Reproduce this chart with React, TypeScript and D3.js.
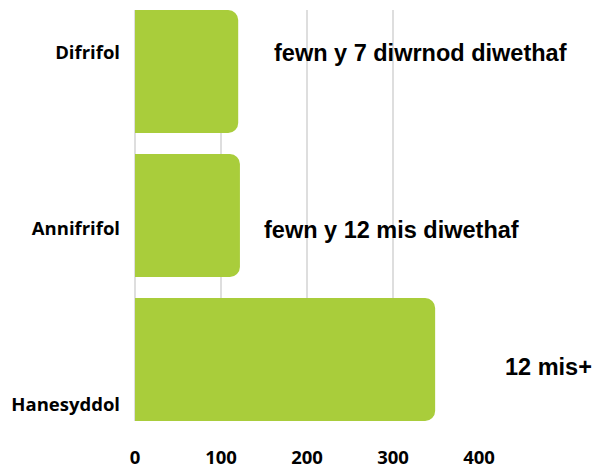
import React from "react";
import * as d3 from "d3";

const categories = ["Difrifol", "Annifrifol", "Hanesyddol"];
const values = [120, 122, 349];
const annotations = ["fewn y 7 diwrnod diwethaf", "fewn y 12 mis diwethaf", "12 mis+"];
const xTicks = [0, 100, 200, 300, 400];

export default function App() {
  const width = 593;
  const height = 469;
  const margin = { top: 10, right: 114, bottom: 48, left: 135 };

  const x = d3
    .scaleLinear()
    .domain([0, 400])
    .range([margin.left, width - margin.right]);

  const y = d3
    .scaleBand()
    .domain(categories)
    .range([margin.top, height - margin.bottom])
    .paddingInner(0.146)
    .paddingOuter(0);

  // the category labels sit on their own evenly spaced rows, not on the bar centres
  const labelY = d3.scalePoint().domain(categories).range([53, 405]);

  // annotation anchors (left edge, vertical centre)
  const annoX = [274, 264, 505];
  const annoY = [53, 230, 367];

  const r = 10;
  const barPath = (v: number, c: string) => {
    const x0 = x(0);
    const x1 = x(v);
    const y0 = y(c)!;
    const y1 = y0 + y.bandwidth();
    const p = d3.path();
    p.moveTo(x0, y0);
    p.lineTo(x1 - r, y0);
    p.arcTo(x1, y0, x1, y0 + r, r);
    p.lineTo(x1, y1 - r);
    p.arcTo(x1, y1, x1 - r, y1, r);
    p.lineTo(x0, y1);
    p.closePath();
    return p.toString();
  };

  const gridTop = margin.top;
  const gridBottom = height - margin.bottom;

  return (
    <svg
      width={width}
      height={height}
      style={{ position: "absolute", left: 0, top: 0, background: "#fff" }}
    >
      <g>
        {xTicks
          .filter((t) => t < 400)
          .map((t) => (
            <line
              key={t}
              x1={x(t)}
              x2={x(t)}
              y1={gridTop}
              y2={gridBottom}
              stroke="#bdbdbd"
              strokeWidth={1}
            />
          ))}
      </g>
      <g>
        {categories.map((c, i) => (
          <path key={c} d={barPath(values[i], c)} fill="#a9cd3b" />
        ))}
      </g>
      <g
        style={{ fontFamily: "'Open Sans', sans-serif", fontWeight: 700, fontSize: "18.5px" }}
        fill="#000"
      >
        {categories.map((c) => (
          <text key={c} x={120} y={labelY(c)} textAnchor="end" dy="0.35em">
            {c}
          </text>
        ))}
        {xTicks.map((t) => (
          <text key={t} x={x(t)} y={458} textAnchor="middle" dy="0.35em">
            {t}
          </text>
        ))}
      </g>
      <g
        style={{ fontFamily: "'Liberation Sans', Arial, sans-serif", fontWeight: 700, fontSize: "23.5px" }}
        fill="#000"
      >
        {annotations.map((a, i) => (
          <text key={a} x={annoX[i]} y={annoY[i]} dy="0.35em">
            {a}
          </text>
        ))}
      </g>
    </svg>
  );
}
